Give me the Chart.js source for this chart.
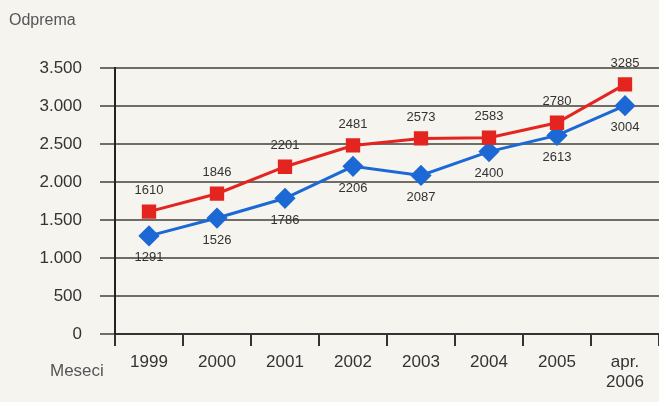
<!DOCTYPE html>
<html lang="sr">
<head>
    <meta charset="UTF-8">
    <title>Odprema</title>
    <script src="https://cdn.jsdelivr.net/npm/chart.js@4/dist/chart.umd.min.js"></script>
    <style>
        html, body { margin: 0; padding: 0; background: #f5f4ef; overflow: hidden; }
        .chart-box { position: relative; width: 659px; height: 402px; }
    </style>
</head>
<body>
    <div class="chart-box">
        <canvas id="myChart" width="659" height="402"></canvas>
    </div>

<script>
    // data
    var years = ['1999', '2000', '2001', '2002', '2003', '2004', '2005', ['apr.', '2006']];
    var redValues = [1610, 1846, 2201, 2481, 2573, 2583, 2780, 3285];
    var blueValues = [1291, 1526, 1786, 2206, 2087, 2400, 2613, 3004];
    var yTicks = [0, 500, 1000, 1500, 2000, 2500, 3000, 3500];

    var FONT = '"Liberation Sans", Arial, sans-serif';

    // labels next to points + the two axis captions
    var textPlugin = {
        id: 'textPlugin',
        afterDatasetsDraw: function (chart) {
            var ctx = chart.ctx;
            ctx.save();
            ctx.font = '13px ' + FONT;
            ctx.fillStyle = '#333';
            ctx.textAlign = 'center';
            ctx.textBaseline = 'middle';
            chart.data.datasets.forEach(function (ds, i) {
                var meta = chart.getDatasetMeta(i);
                meta.data.forEach(function (pt, j) {
                    var dy = i === 0 ? -21 : 22;
                    ctx.fillText(String(ds.data[j]), pt.x, pt.y + dy);
                });
            });

            ctx.fillStyle = '#555';
            ctx.textAlign = 'left';
            ctx.font = '16px ' + FONT;
            ctx.fillText('Odprema', 9, 21);
            ctx.font = '17px ' + FONT;
            ctx.fillText('Meseci', 50, 371);
            ctx.restore();
        }
    };

    var ctx = document.getElementById('myChart').getContext('2d');
    var myChart = new Chart(ctx, {
        type: 'line',
        data: {
            labels: years,
            datasets: [{
                label: 'red',
                data: redValues,
                borderColor: '#e4241f',
                backgroundColor: '#e4241f',
                borderWidth: 3,
                pointStyle: 'rect',
                pointRadius: 8,
                pointHoverRadius: 8,
                tension: 0
            }, {
                label: 'blue',
                data: blueValues,
                borderColor: '#1c68d4',
                backgroundColor: '#1c68d4',
                borderWidth: 3,
                pointStyle: 'rectRot',
                pointRadius: 8.5,
                pointHoverRadius: 8.5,
                tension: 0
            }]
        },
        options: {
            responsive: false,
            animation: false,
            layout: { autoPadding: false, padding: { top: 68, right: 0, left: 0, bottom: 0 } },
            plugins: {
                legend: { display: false },
                tooltip: { enabled: false }
            },
            scales: {
                x: {
                    offset: true,
                    afterFit: function (scale) {
                        scale.height = 68;
                        scale.paddingLeft = 0;
                        scale.paddingRight = 0;
                    },
                    grid: {
                        offset: true,
                        drawOnChartArea: false,
                        drawTicks: true,
                        tickLength: 12,
                        color: '#333',
                        lineWidth: 2
                    },
                    border: { color: '#333', width: 2 },
                    ticks: {
                        color: '#333',
                        font: { family: FONT, size: 17 },
                        padding: 6,
                        maxRotation: 0,
                        autoSkip: false
                    }
                },
                y: {
                    min: 0,
                    max: 3500,
                    afterFit: function (scale) {
                        scale.width = 115;
                        scale.paddingTop = 0;
                        scale.paddingBottom = 0;
                    },
                    afterBuildTicks: function (scale) {
                        scale.ticks = yTicks.map(function (v) { return { value: v }; });
                    },
                    grid: {
                        color: '#6e6d66',
                        lineWidth: 2,
                        tickLength: 15
                    },
                    border: { color: '#222', width: 2 },
                    ticks: {
                        autoSkip: false,
                        color: '#333',
                        font: { family: FONT, size: 17 },
                        padding: 18,
                        callback: function (v) {
                            return v >= 1000 ? Math.floor(v / 1000) + '.' + String(v % 1000).padStart(3, '0') : String(v);
                        }
                    }
                }
            }
        },
        plugins: [textPlugin]
    });
</script>
</body>
</html>
